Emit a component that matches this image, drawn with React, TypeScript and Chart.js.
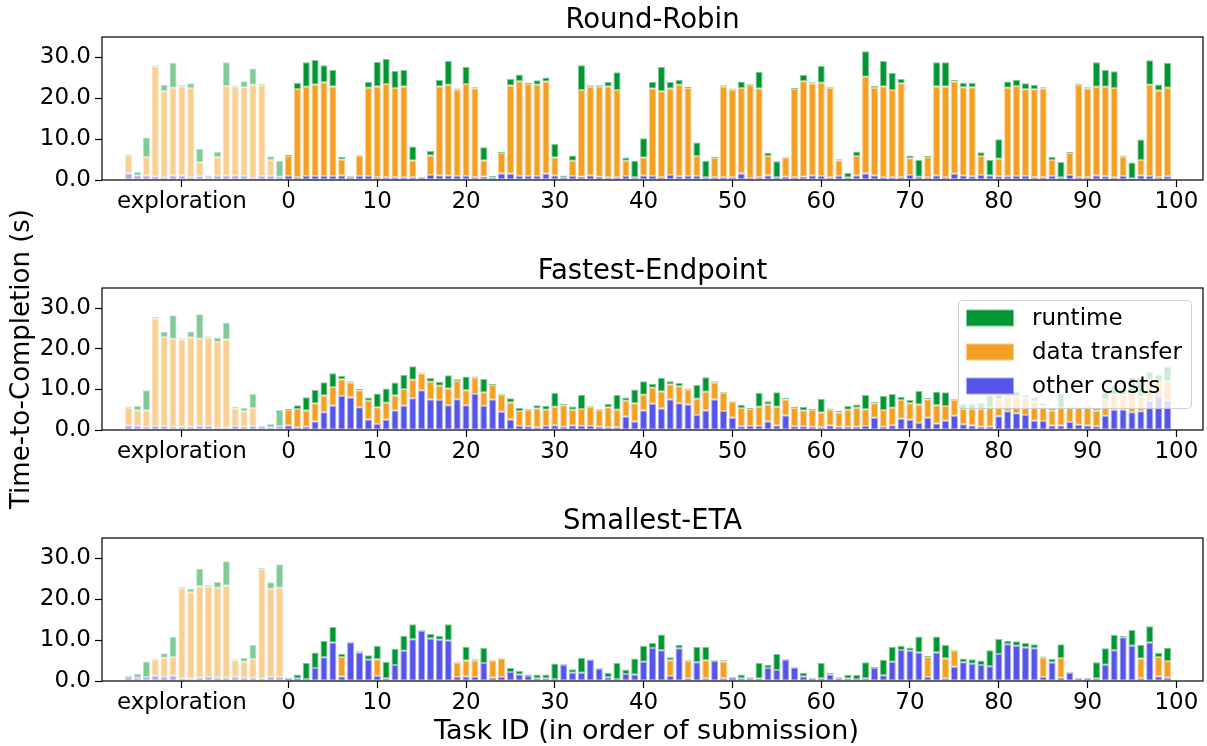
import React, { useEffect, useRef } from 'react';
import { Chart, registerables } from 'chart.js';

Chart.register(...registerables);
Chart.defaults.font.family = '"DejaVu Sans", sans-serif';

// x positions of the exploration runs and the submitted tasks
const EXPLORATION_IDS = [-18, -17, -16, -15, -14, -13, -12, -11, -10, -9, -8, -7, -6, -5, -4, -3, -2, -1];
const TASK_IDS = Array.from({ length: 100 }, (_, i) => i);
const X_TICKS = [-12, 0, 10, 20, 30, 40, 50, 60, 70, 80, 90, 100];
const Y_TICKS = [0, 10, 20, 30];

// ---- Round-Robin ----
const rrExploreOther = [1.6, 1.1, 1.1, 0.9, 0.7, 1.1, 1.1, 0.7, 0.9, 0.7, 1.0, 1.1, 1.1, 1.0, 0.5, 1.0, 1.0, 0.8];
const rrExploreTransfer = [4.4, 0, 4.5, 26.9, 21.0, 21.5, 21.8, 21.8, 3.4, 0, 4.6, 21.9, 21.8, 21.7, 22.8, 22.2, 3.9, 0];
const rrExploreRuntime = [0.3, 0.9, 4.8, 0.3, 1.6, 6.1, 0.4, 1.2, 3.3, 0.4, 1.3, 5.8, 0.3, 1.5, 4.0, 0.3, 0.9, 3.9];
const rrTaskOther = [
  1.0, 0.7, 1.0, 1.0, 1.0, 1.0, 1.1, 0.7, 1.0, 1.0,
  0.7, 0.7, 0.7, 0.7, 0.7, 0.6, 1.2, 1.1, 1.1, 1.0,
  1.0, 0.7, 0.8, 0.6, 1.6, 1.5, 1.0, 1.0, 1.0, 1.5,
  1.1, 0.7, 1.0, 0.8, 1.1, 0.8, 0.6, 0.7, 1.0, 0.7,
  1.1, 1.0, 0.7, 1.2, 0.9, 1.0, 1.0, 0.7, 0.7, 0.7,
  0.7, 1.6, 0.5, 0.7, 1.1, 0.7, 0.8, 0.7, 0.8, 1.1,
  1.0, 0.6, 1.0, 0.6, 1.1, 1.6, 1.1, 0.7, 0.7, 0.7,
  1.2, 0.8, 0.7, 1.1, 0.7, 1.5, 1.1, 0.9, 1.2, 1.1,
  0.9, 0.9, 1.0, 1.0, 0.7, 0.7, 1.0, 0.6, 1.2, 0.7,
  0.7, 1.1, 0.9, 0.6, 1.0, 0.4, 1.1, 1.0, 0.7, 0.9,
];
const rrTaskTransfer = [
  4.9, 21.6, 21.8, 22.4, 22.9, 21.9, 3.9, 0, 5.0, 21.6,
  22.2, 22.8, 21.8, 22.2, 4.1, 0, 4.8, 21.8, 22.2, 21.1,
  22.5, 21.7, 4.0, 0, 5.0, 21.6, 23.2, 22.5, 22.3, 22.6,
  4.4, 0, 3.7, 21.2, 21.7, 22.0, 22.3, 21.3, 3.7, 0,
  4.4, 21.4, 21.0, 21.2, 22.4, 21.5, 4.9, 0, 4.7, 22.2,
  21.4, 20.9, 22.8, 21.7, 4.8, 0, 4.7, 21.6, 23.4, 22.5,
  22.8, 22.0, 3.8, 0, 4.8, 23.7, 21.5, 22.2, 21.3, 23.0,
  4.1, 0, 4.9, 21.8, 22.2, 22.6, 21.6, 21.8, 4.7, 0,
  4.3, 21.7, 22.0, 21.2, 21.5, 21.7, 3.9, 0, 5.4, 22.6,
  21.7, 21.7, 21.9, 21.9, 4.7, 0, 3.8, 22.3, 21.2, 21.7,
];
const rrTaskRuntime = [
  0.3, 1.5, 6.0, 6.0, 4.2, 4.0, 0.7, 0.2, 0.2, 1.4,
  6.0, 6.1, 4.2, 4.0, 3.4, 0.2, 1.1, 1.6, 5.9, 0.3,
  4.2, 0.3, 3.2, 0.4, 0.3, 1.6, 1.6, 0.3, 1.1, 1.0,
  3.3, 0.4, 1.3, 6.1, 0.4, 0.4, 1.1, 4.4, 0.8, 4.0,
  4.7, 1.6, 6.0, 1.6, 1.2, 0.3, 3.3, 4.0, 0.3, 0.3,
  0.3, 1.6, 0.2, 4.1, 0.8, 3.9, 0.2, 0.3, 1.5, 0.3,
  4.1, 0.2, 0.3, 1.1, 1.1, 6.2, 0.4, 6.2, 4.2, 1.0,
  0.7, 4.1, 0.3, 5.9, 5.9, 0.4, 1.1, 1.1, 0.9, 3.8,
  4.8, 1.5, 1.5, 1.5, 1.1, 0.3, 0.7, 3.8, 0.3, 0.3,
  0.3, 6.0, 4.1, 4.1, 0.3, 3.9, 5.0, 6.0, 1.5, 6.1,
];

// ---- Fastest-Endpoint ----
const feExploreOther = [1.1, 1.0, 0.8, 1.0, 1.0, 0.8, 0.8, 0.8, 1.0, 1.0, 0.5, 0.6, 1.0, 0.8, 1.0, 0.9, 0.7, 1.0];
const feExploreTransfer = [4.4, 3.8, 4.0, 26.5, 21.9, 21.7, 21.5, 22.0, 21.5, 21.8, 21.2, 21.7, 4.3, 3.8, 4.4, 0, 0, 0];
const feExploreRuntime = [0.3, 1.1, 5.0, 0.4, 1.3, 5.8, 0.3, 1.5, 6.0, 0.3, 1.1, 4.2, 0.4, 0.9, 3.5, 0.2, 0.8, 3.9];
const feTaskOther = [
  1.1, 0.7, 0.8, 2.1, 4.4, 6.0, 8.4, 8.0, 5.6, 2.6,
  1.5, 2.5, 4.8, 6.0, 7.8, 9.8, 7.5, 7.4, 6.1, 7.6,
  6.1, 8.9, 5.9, 7.5, 4.5, 2.6, 1.0, 0.9, 0.7, 1.0,
  1.2, 0.8, 1.1, 1.0, 1.0, 0.8, 0.7, 0.7, 3.3, 2.1,
  4.8, 6.5, 5.3, 7.5, 6.6, 6.3, 3.7, 4.8, 7.5, 4.7,
  3.0, 0.9, 1.0, 1.0, 2.1, 1.1, 3.6, 0.9, 0.9, 0.8,
  0.7, 1.1, 0.8, 0.8, 0.8, 1.0, 3.0, 0.8, 1.2, 2.8,
  2.5, 1.7, 3.0, 1.6, 2.3, 3.5, 1.4, 1.1, 0.8, 0.8,
  3.4, 4.6, 4.1, 3.7, 2.3, 2.2, 1.1, 1.1, 2.0, 1.3,
  1.1, 0.9, 3.5, 5.0, 4.9, 4.4, 4.6, 7.2, 8.4, 7.3,
];
const feTaskTransfer = [
  3.8, 4.5, 4.0, 4.5, 4.1, 4.6, 4.1, 3.7, 4.2, 4.6,
  4.1, 4.2, 3.7, 4.1, 4.6, 4.1, 4.4, 3.5, 4.1, 4.5,
  3.7, 4.0, 3.4, 3.6, 4.2, 4.2, 3.7, 4.1, 4.6, 4.0,
  4.5, 5.3, 3.9, 4.2, 4.7, 4.2, 4.9, 4.3, 3.9, 4.5,
  3.9, 3.9, 4.2, 3.7, 4.2, 3.6, 4.0, 4.6, 4.2, 4.5,
  4.0, 4.5, 4.2, 4.7, 4.2, 4.6, 3.9, 4.5, 3.9, 4.1,
  3.6, 3.9, 3.5, 4.2, 4.7, 4.1, 3.6, 4.1, 4.3, 4.6,
  4.1, 4.6, 4.6, 4.5, 3.6, 3.9, 3.8, 4.1, 4.4, 4.6,
  4.1, 3.7, 4.2, 4.3, 4.7, 3.6, 3.7, 4.3, 3.6, 4.1,
  4.3, 3.9, 4.0, 3.7, 3.8, 4.7, 3.8, 5.2, 3.7, 4.7,
];
const feTaskRuntime = [
  0.3, 0.9, 3.3, 3.3, 3.3, 3.4, 0.9, 0.3, 0.3, 0.8,
  3.4, 3.5, 3.2, 3.5, 3.3, 0.3, 0.9, 1.0, 3.3, 0.4,
  3.4, 0.3, 3.3, 0.3, 0.2, 1.0, 0.8, 0.2, 0.8, 1.0,
  3.4, 0.3, 0.8, 3.5, 0.2, 0.2, 0.9, 3.6, 0.8, 3.4,
  3.3, 1.0, 3.4, 0.8, 0.8, 0.3, 3.4, 3.6, 0.3, 0.2,
  0.2, 0.8, 0.3, 3.5, 0.8, 3.6, 0.4, 0.3, 0.9, 0.3,
  3.4, 0.3, 0.4, 0.9, 0.8, 3.5, 0.3, 3.5, 3.4, 0.8,
  0.8, 3.3, 0.3, 3.3, 3.4, 0.2, 1.3, 1.3, 1.5, 3.1,
  1.2, 0.3, 1.2, 0.7, 1.0, 0.8, 0.4, 3.5, 0.4, 0.2,
  0.3, 0.4, 1.8, 2.3, 1.2, 3.9, 4.4, 1.9, 1.5, 3.5,
];

// ---- Smallest-ETA ----
const seExploreOther = [1.0, 0.8, 1.0, 1.3, 1.0, 1.3, 0.7, 0.6, 0.8, 1.0, 0.8, 0.8, 1.0, 0.8, 0.8, 0.7, 1.0, 1.0];
const seExploreTransfer = [0, 0, 0, 3.9, 4.7, 4.6, 22.0, 21.1, 22.4, 22.1, 22.0, 22.6, 4.0, 3.9, 4.6, 26.7, 21.6, 21.8];
const seExploreRuntime = [0.2, 1.0, 3.8, 0.2, 1.1, 4.9, 0.3, 0.9, 4.3, 0.4, 1.5, 5.9, 0.3, 1.0, 3.4, 0.3, 1.6, 5.8];
const seTaskOther = [
  0.7, 0.7, 0.5, 3.2, 5.8, 9.4, 1.1, 9.5, 7.0, 5.2,
  1.2, 0.7, 3.9, 7.4, 10.2, 12.3, 10.4, 10.1, 9.9, 1.0,
  1.1, 1.0, 4.4, 0.8, 1.0, 2.2, 1.6, 1.2, 0.7, 0.7,
  0.5, 4.0, 2.0, 2.0, 5.2, 3.0, 0.9, 0.5, 1.7, 1.6,
  4.7, 8.1, 7.5, 1.2, 8.0, 0.7, 4.6, 0.7, 4.9, 0.7,
  0.8, 0.7, 0.7, 0.6, 3.2, 2.7, 5.2, 3.3, 1.1, 0.7,
  0.7, 1.6, 0.7, 0.6, 0.5, 0.7, 3.2, 1.4, 4.7, 7.6,
  7.4, 7.0, 1.0, 7.0, 0.7, 3.5, 4.6, 4.2, 3.9, 3.6,
  6.6, 9.0, 8.6, 8.2, 8.0, 1.0, 4.5, 0.8, 2.0, 0.7,
  0.7, 0.7, 4.0, 7.5, 10.7, 8.6, 0.7, 9.4, 1.1, 0.8,
];
const seTaskTransfer = [
  0, 0, 0, 0, 0, 0, 4.8, 0, 0, 0,
  4.1, 0, 0, 0, 0, 0, 0, 0, 0, 3.5,
  3.9, 4.0, 0, 4.2, 4.5, 0, 0, 0, 0, 0,
  0, 0, 0, 0, 0, 0, 0, 0, 0, 0,
  0, 0, 0, 3.9, 0, 4.2, 0, 4.4, 0, 4.1,
  0, 0, 0, 0, 0, 0, 0, 0, 0, 0,
  0, 0, 0, 0, 0, 0, 0, 0, 0, 0,
  0, 0, 4.9, 0, 4.8, 3.9, 0, 0, 0, 0,
  0, 0, 0, 0, 0, 4.7, 0, 4.8, 0, 0,
  0, 0, 0, 0, 0, 0, 4.8, 0, 4.8, 4.1,
];
const seTaskRuntime = [
  0.1, 0.9, 3.9, 3.8, 4.0, 3.8, 0.8, 0.1, 0.3, 1.1,
  3.3, 4.0, 4.0, 3.7, 3.7, 0.2, 1.1, 1.0, 4.0, 0.2,
  3.4, 0.3, 3.7, 0.2, 0.2, 1.0, 0.9, 0.3, 0.9, 0.9,
  3.8, 0.2, 0.9, 3.7, 0.1, 0.2, 1.1, 3.9, 1.1, 3.9,
  3.9, 1.2, 3.9, 0.7, 0.9, 0.2, 3.8, 3.3, 0.2, 0.3,
  0.2, 0.9, 0.2, 3.8, 0.8, 3.9, 0.2, 0.2, 0.9, 0.1,
  3.7, 0.4, 0.2, 0.9, 1.0, 3.9, 0.2, 3.8, 3.7, 1.0,
  0.8, 3.9, 0.2, 3.9, 3.3, 0.2, 0.9, 1.1, 1.1, 3.9,
  3.7, 0.8, 1.1, 1.1, 1.0, 0.3, 0.9, 3.4, 0.2, 0.1,
  0.1, 3.9, 4.0, 3.8, 0.3, 3.9, 3.4, 4.0, 1.0, 3.2,
];

type RGB = [number, number, number];
const OTHER_COLOR: RGB = [85, 85, 235];
const TRANSFER_COLOR: RGB = [245, 160, 35];
const RUNTIME_COLOR: RGB = [0, 150, 50];

const rgba = (c: RGB, a: number) => `rgba(${c[0]},${c[1]},${c[2]},${a})`;

const LEGEND_ITEMS: { label: string; color: RGB }[] = [
  { label: 'runtime', color: RUNTIME_COLOR },
  { label: 'data transfer', color: TRANSFER_COLOR },
  { label: 'other costs', color: OTHER_COLOR },
];

type Panel = {
  title: string;
  top: number;
  height: number;
  areaTop: number;
  areaBottom: number;
  other: [number[], number[]];
  transfer: [number[], number[]];
  runtime: [number[], number[]];
  legend?: boolean;
  xLabel?: string;
  xLabelBaseline?: number;
};

const PANELS: Panel[] = [
  {
    title: 'Round-Robin', top: 0, height: 250, areaTop: 37, areaBottom: 180,
    other: [rrExploreOther, rrTaskOther],
    transfer: [rrExploreTransfer, rrTaskTransfer],
    runtime: [rrExploreRuntime, rrTaskRuntime],
  },
  {
    title: 'Fastest-Endpoint', top: 250, height: 250, areaTop: 38, areaBottom: 180,
    other: [feExploreOther, feTaskOther],
    transfer: [feExploreTransfer, feTaskTransfer],
    runtime: [feExploreRuntime, feTaskRuntime],
    legend: true,
  },
  {
    title: 'Smallest-ETA', top: 500, height: 246, areaTop: 38, areaBottom: 181,
    other: [seExploreOther, seTaskOther],
    transfer: [seExploreTransfer, seTaskTransfer],
    runtime: [seExploreRuntime, seTaskRuntime],
    xLabel: 'Task ID (in order of submission)', xLabelBaseline: 239,
  },
];

function makeDataset(label: string, color: RGB, explore: number[], tasks: number[]) {
  const data = [
    ...explore.map((y, i) => ({ x: EXPLORATION_IDS[i], y })),
    ...tasks.map((y, i) => ({ x: TASK_IDS[i], y })),
  ];
  const faded = (c: any) => c.raw && c.raw.x < 0;
  return {
    label,
    data,
    backgroundColor: (c: any) => rgba(color, faded(c) ? 0.5 : 1),
    borderColor: (c: any) => rgba(color, faded(c) ? 0.25 : 0.5),
    borderWidth: (c: any) => (c.raw && c.raw.y > 0 ? 1 : 0),
    borderSkipped: false,
    barPercentage: 0.8,
    categoryPercentage: 1.0,
  };
}

// frame, panel title, optional legend and x-axis label
const decorPlugin = {
  id: 'panelDecor',
  afterDraw(chart: any, _args: any, opts: any) {
    const { ctx, chartArea: a } = chart;
    const cx = (a.left + a.right) / 2;
    ctx.save();
    ctx.strokeStyle = '#000';
    ctx.lineWidth = 1.2;
    ctx.strokeRect(a.left, a.top, a.right - a.left, a.bottom - a.top);

    ctx.fillStyle = '#000';
    ctx.textAlign = 'center';
    ctx.textBaseline = 'alphabetic';
    ctx.font = '27.5px "DejaVu Sans"';
    ctx.fillText(opts.title, cx, a.top - 9);

    if (opts.xLabel) {
      ctx.font = '27px "DejaVu Sans"';
      ctx.fillText(opts.xLabel, cx - 6, opts.xLabelBaseline);
    }

    if (opts.legend) {
      const bx = 958, by = a.top + 12, bw = 233, bh = 108;
      ctx.beginPath();
      ctx.roundRect(bx + 0.5, by + 0.5, bw, bh, 4);
      ctx.fillStyle = 'rgba(255,255,255,0.8)';
      ctx.fill();
      ctx.strokeStyle = 'rgba(204,204,204,0.9)';
      ctx.lineWidth = 1;
      ctx.stroke();
      ctx.font = '23px "DejaVu Sans"';
      ctx.textAlign = 'left';
      ctx.textBaseline = 'middle';
      LEGEND_ITEMS.forEach((item, i) => {
        const cy = by + 18 + i * 34;
        ctx.fillStyle = rgba(item.color, 0.5);
        ctx.fillRect(966, cy - 8.5, 48, 17);
        ctx.fillStyle = rgba(item.color, 1);
        ctx.fillRect(967, cy - 7.5, 46, 15);
        ctx.fillStyle = '#000';
        ctx.fillText(item.label, 1032, cy + 1);
      });
    }
    ctx.restore();
  },
};

function PanelChart({ panel }: { panel: Panel }) {
  const ref = useRef<HTMLCanvasElement>(null);

  useEffect(() => {
    if (!ref.current) return;
    const xAxisHeight = panel.height - panel.areaBottom;
    const tickStyle = { tickLength: 7, tickColor: '#000', tickWidth: 1.2 };
    const chart = new Chart(ref.current, {
      type: 'bar',
      data: {
        datasets: [
          makeDataset('other costs', OTHER_COLOR, panel.other[0], panel.other[1]),
          makeDataset('data transfer', TRANSFER_COLOR, panel.transfer[0], panel.transfer[1]),
          makeDataset('runtime', RUNTIME_COLOR, panel.runtime[0], panel.runtime[1]),
        ] as any,
      },
      options: {
        animation: false,
        responsive: false,
        maintainAspectRatio: false,
        devicePixelRatio: 1,
        events: [],
        layout: { padding: { top: panel.areaTop, left: 0, right: 4, bottom: 0 } },
        plugins: {
          legend: { display: false },
          tooltip: { enabled: false },
          title: { display: false },
          panelDecor: {
            title: panel.title,
            legend: !!panel.legend,
            xLabel: panel.xLabel,
            xLabelBaseline: panel.xLabelBaseline,
          },
        } as any,
        scales: {
          x: {
            type: 'linear',
            min: -21,
            max: 103,
            offset: false,
            stacked: true,
            afterBuildTicks: (s: any) => {
              s.ticks = X_TICKS.map((v) => ({ value: v }));
            },
            afterFit: (s: any) => {
              s.height = xAxisHeight;
            },
            grid: { display: true, offset: false, drawOnChartArea: false, drawTicks: true, ...tickStyle },
            border: { display: false },
            ticks: {
              color: '#000',
              font: { size: 23 },
              padding: 1,
              maxRotation: 0,
              autoSkip: false,
              callback: (v: any) => (v === -12 ? 'exploration' : String(v)),
            },
          },
          y: {
            type: 'linear',
            min: 0,
            max: 35,
            stacked: true,
            afterBuildTicks: (s: any) => {
              s.ticks = Y_TICKS.map((v) => ({ value: v }));
            },
            afterFit: (s: any) => {
              s.width = 102;
            },
            grid: { display: true, drawOnChartArea: false, drawTicks: true, ...tickStyle },
            border: { display: false },
            ticks: {
              color: '#000',
              font: { size: 23 },
              padding: 4,
              callback: (v: any) => Number(v).toFixed(1),
            },
          },
        } as any,
      },
      plugins: [decorPlugin],
    });
    return () => chart.destroy();
  }, [panel]);

  return (
    <canvas
      ref={ref}
      width={1207}
      height={panel.height}
      style={{ position: 'absolute', left: 0, top: panel.top, width: 1207, height: panel.height }}
    />
  );
}

export default function App() {
  return (
    <div
      style={{
        position: 'absolute',
        left: 0,
        top: 0,
        width: 1207,
        height: 746,
        background: '#fff',
        overflow: 'hidden',
        fontFamily: '"DejaVu Sans", sans-serif',
      }}
    >
      {PANELS.map((p) => (
        <PanelChart key={p.title} panel={p} />
      ))}
      <div
        style={{
          position: 'absolute',
          left: 20,
          top: 359,
          transform: 'translate(-50%, -50%) rotate(-90deg)',
          fontSize: 26,
          lineHeight: 1,
          whiteSpace: 'nowrap',
          color: '#000',
        }}
      >
        Time-to-Completion (s)
      </div>
    </div>
  );
}
